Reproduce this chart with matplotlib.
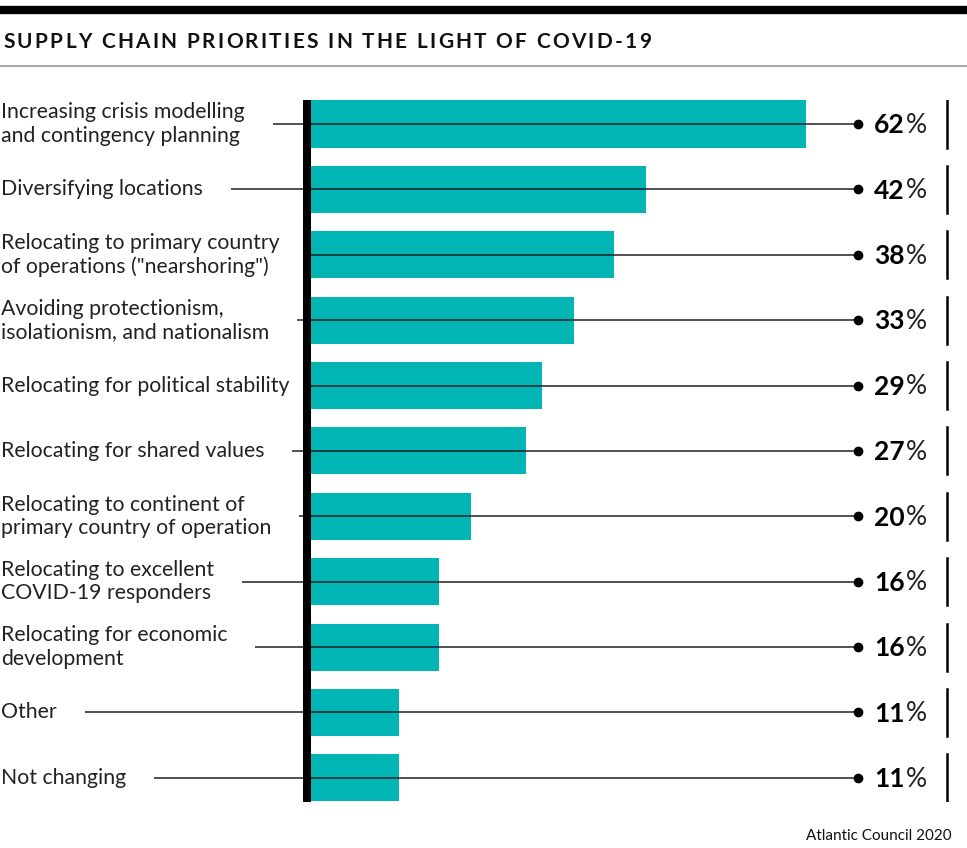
import matplotlib.pyplot as plt
import numpy as np

plt.rcParams['font.family'] = ['Lato', 'DejaVu Sans']

# data
labels = ['Increasing crisis modelling\nand contingency planning',
          'Diversifying locations',
          'Relocating to primary country\nof operations ("nearshoring")',
          'Avoiding protectionism,\nisolationism, and nationalism',
          'Relocating for political stability',
          'Relocating for shared values',
          'Relocating to continent of\nprimary country of operation',
          'Relocating to excellent\nCOVID-19 responders',
          'Relocating for economic\ndevelopment',
          'Other',
          'Not changing']
values = [62, 42, 38, 33, 29, 27, 20, 16, 16, 11, 11]

title = 'SUPPLY CHAIN PRIORITIES IN THE LIGHT OF COVID-19'
source = 'Atlantic Council 2020'

teal = '#00b5b4'
W, H = 967, 848
px = 7.98  # pixels per percent
x0 = 311   # bar start in pixels

fig = plt.figure(figsize=(W / 100, H / 100), dpi=100)
ax = fig.add_axes([0, 1 - 802 / H, 1, 702 / H])
ax.set_xlim(-x0 / px, (W - x0) / px)
ax.set_ylim(10.37, -0.367)
ax.axis('off')

def to_x(p):
    return (p - x0) / px

y = np.arange(len(values))
ax.barh(y, values, height=0.72, color=teal, left=0, zorder=2)
ax.axvline(to_x(307), color='black', lw=8 * 0.72, zorder=4)

renderer = fig.canvas.get_renderer()
for i, (lab, v) in enumerate(zip(labels, values)):
    t = ax.text(to_x(1), i, lab, ha='left', va='center', fontsize=15.3,
                linespacing=1.2, color='#222')
    bb = t.get_window_extent(renderer)
    start = bb.x1 + 28
    if start > 303:
        start = 311
    ax.plot([to_x(start), to_x(858)], [i, i], color='#222', lw=1.1, zorder=3,
            solid_capstyle='butt')
    ax.plot(to_x(858), i, 'o', color='black', ms=6, zorder=5)
    ax.text(to_x(905), i + 0.02, str(v), ha='right', va='center', fontsize=19,
            fontweight='bold', color='black')
    ax.text(to_x(906), i + 0.02, '%', ha='left', va='center', fontsize=19,
            color='#222')
    ax.plot([to_x(947), to_x(947)], [i - 0.36, i + 0.36], color='black', lw=1.8)

# header
fig.add_artist(plt.Line2D([0, 1], [1 - 10 / H, 1 - 10 / H], color='black', lw=6))
fig.add_artist(plt.Line2D([0, 1], [1 - 66 / H, 1 - 66 / H], color='#aaaaaa', lw=1.5))

# title with letter spacing
xpos = 3
for ch in title:
    t = fig.text(xpos / W, 1 - 42 / H, ch, ha='left', va='center', fontsize=15,
                 fontweight='bold', color='#111')
    bb = t.get_window_extent(renderer)
    w = bb.width if ch != ' ' else 5
    xpos += w + 2.3

fig.text(952 / W, 1 - 836 / H, source, ha='right', va='center', fontsize=11,
         color='#111')

fig.savefig('out.png', dpi=100)
